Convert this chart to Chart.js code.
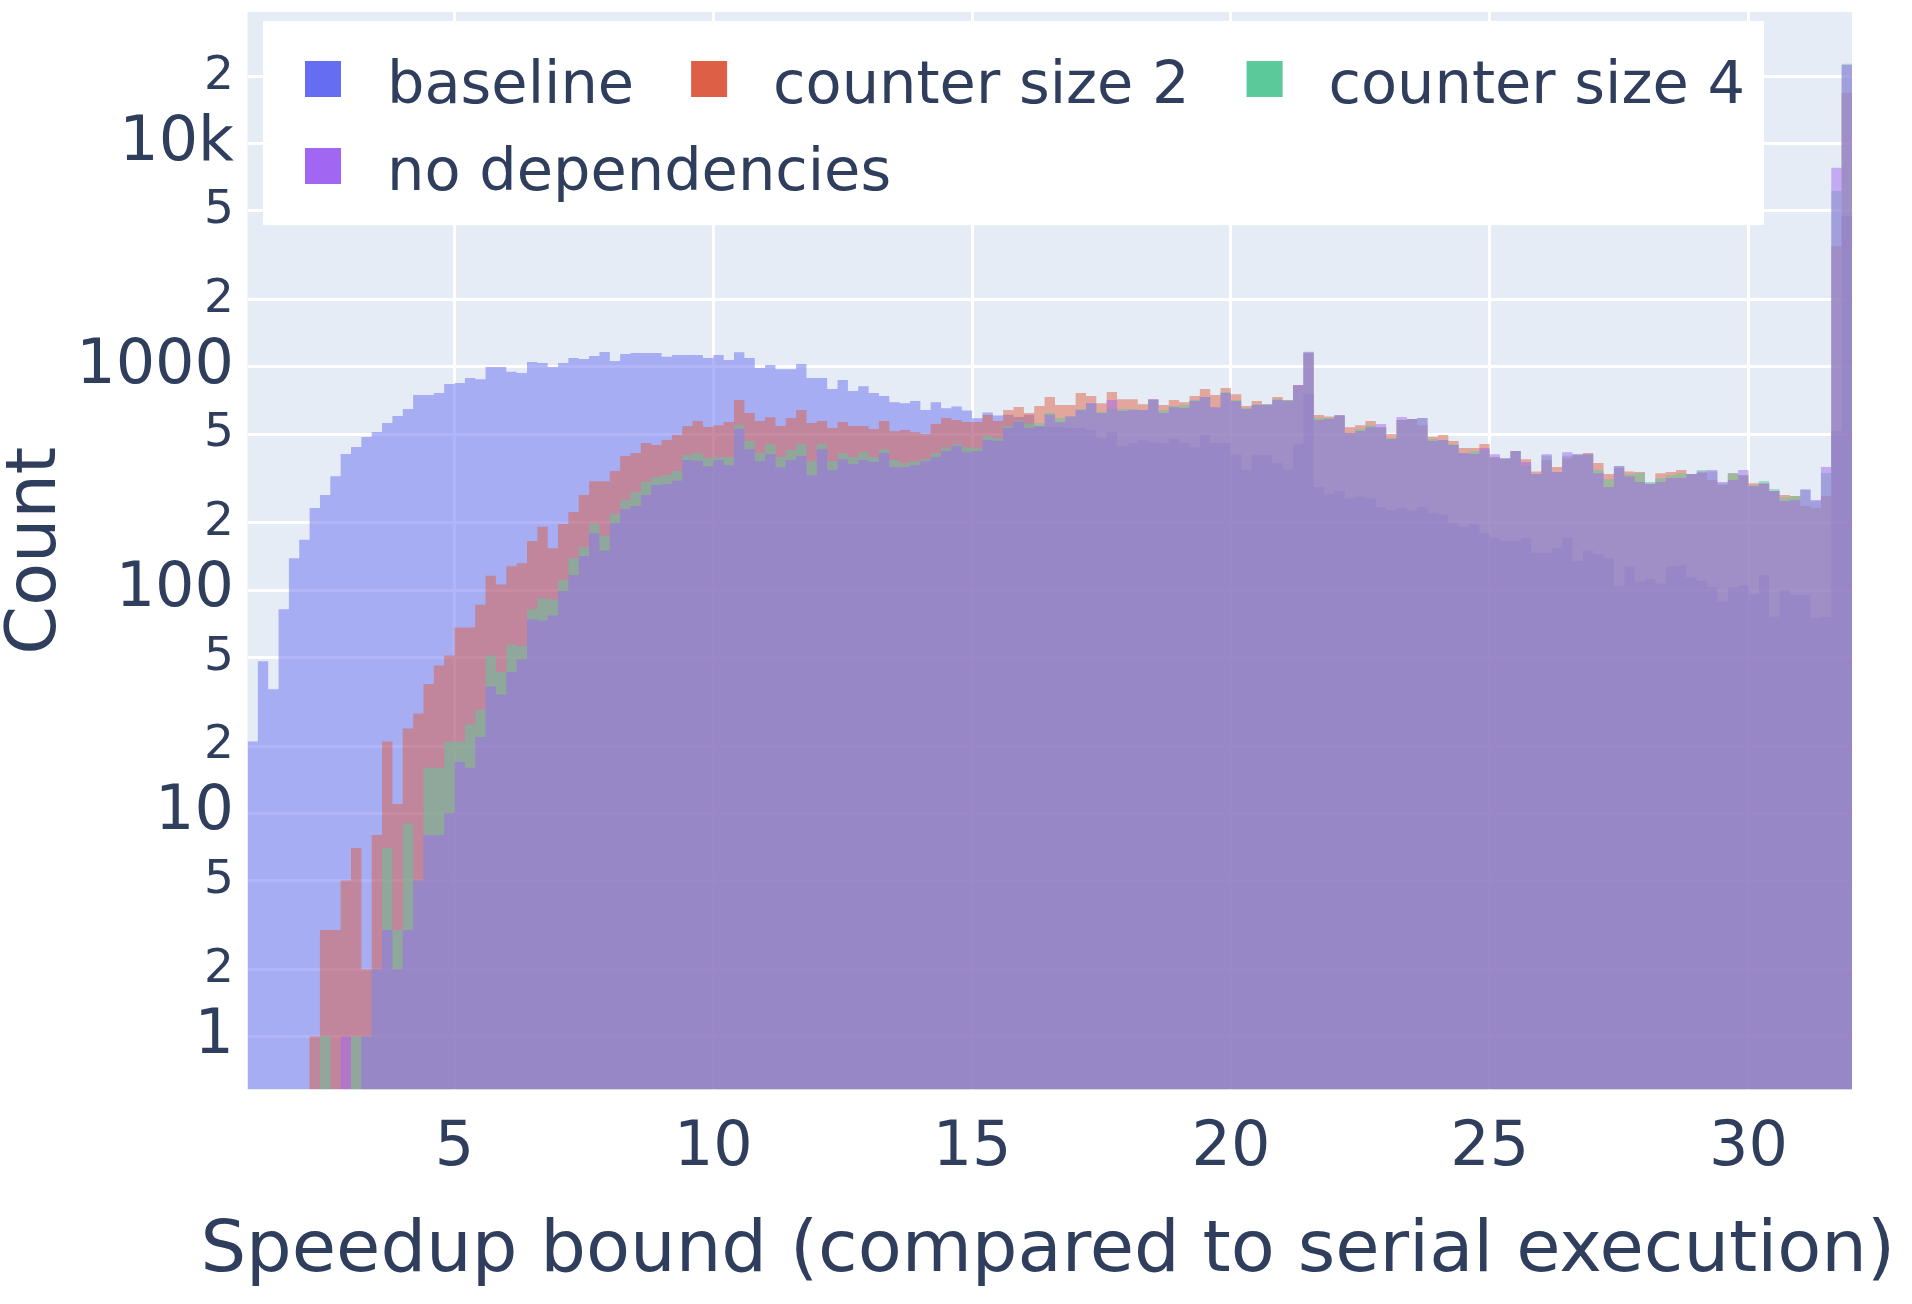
<!DOCTYPE html>
<html>
<head>
<meta charset="utf-8">
<script src="https://cdn.jsdelivr.net/npm/chart.js@4.4.1/dist/chart.umd.min.js"></script>
<style>
  html, body { margin: 0; padding: 0; background: #fff; overflow: hidden; }
  canvas { display: block; }
</style>
</head>
<body>
<canvas id="histChart" width="1912" height="1304"></canvas>
<script>
// histogram bins: 155 bins of width 0.2 from 1 to 32
var binStart = 1;
var binWidth = 0.2;

var seriesNames = ["baseline", "counter size 2", "counter size 4", "no dependencies"];
var xTitle = "Speedup bound (compared to serial execution)";
var yTitle = "Count";

var baseline = [
  21, 48, 36, 82, 139, 168, 233, 267, 324, 407,
  438, 485, 511, 561, 603, 648, 748, 748, 764, 838,
  848, 892, 881, 1000, 1000, 950, 940, 1052, 1042, 1000,
  1042, 1097, 1085, 1119, 1166, 1063, 1142, 1155, 1155, 1155,
  1110, 1132, 1132, 1132, 1096, 1131, 1074, 1164, 1096, 988,
  1019, 977, 977, 1030, 891, 891, 796, 874, 779, 820,
  764, 740, 695, 688, 703, 641, 695, 652, 665, 638,
  588, 625, 606, 611, 596, 610, 540, 540, 540, 532,
  532, 521, 480, 510, 442, 456, 470, 460, 456, 475,
  456, 437, 495, 456, 456, 406, 345, 403, 403, 371,
  348, 451, 755, 290, 269, 278, 258, 261, 258, 235,
  228, 233, 228, 235, 221, 218, 200, 192, 198, 180,
  171, 166, 166, 171, 147, 147, 154, 171, 135, 151,
  145, 139, 104, 128, 109, 112, 107, 128, 129, 114,
  110, 103, 89, 103, 105, 96, 117, 76, 100, 95,
  95, 75, 76, 518, 4745
];

var counterSize2 = [
  0, 0, 0, 0, 0, 0, 1, 3, 3, 5,
  7, 2, 8, 21, 11, 24, 28, 38, 46, 51,
  68, 68, 86, 116, 106, 128, 132, 166, 192, 154,
  198, 224, 267, 307, 307, 342, 399, 411, 456, 447,
  470, 495, 543, 573, 538, 548, 566, 710, 621, 572,
  595, 543, 590, 641, 560, 572, 532, 566, 543, 543,
  527, 572, 515, 521, 510, 500, 555, 590, 578, 566,
  566, 609, 572, 641, 661, 621, 668, 733, 675, 675,
  764, 740, 688, 771, 717, 717, 681, 717, 675, 711,
  695, 740, 796, 748, 804, 755, 668, 703, 681, 733,
  711, 830, 1150, 609, 600, 605, 537, 548, 572, 537,
  500, 578, 584, 548, 486, 495, 466, 433, 433, 451,
  394, 387, 420, 386, 340, 383, 356, 390, 402, 411,
  371, 331, 352, 340, 338, 300, 334, 338, 345, 331,
  335, 311, 296, 334, 327, 301, 300, 278, 267, 264,
  238, 233, 264, 3475, 16930
];

var counterSize4 = [
  0, 0, 0, 0, 0, 0, 0, 1, 0, 0,
  1, 1, 2, 7, 3, 9, 5, 16, 16, 21,
  21, 25, 29, 51, 43, 57, 56, 82, 92, 91,
  111, 139, 156, 198, 175, 219, 253, 275, 306, 321,
  328, 342, 403, 411, 391, 395, 395, 548, 466, 411,
  451, 395, 424, 451, 378, 451, 378, 411, 395, 415,
  395, 428, 383, 371, 378, 386, 411, 437, 451, 437,
  433, 490, 480, 543, 572, 557, 561, 621, 590, 600,
  647, 688, 628, 647, 647, 647, 641, 711, 641, 668,
  675, 711, 733, 660, 771, 711, 654, 681, 681, 717,
  711, 820, 1160, 590, 590, 605, 506, 527, 548, 537,
  480, 578, 584, 590, 475, 470, 450, 410, 420, 425,
  394, 390, 420, 362, 331, 400, 338, 400, 406, 406,
  345, 314, 359, 330, 335, 305, 318, 327, 334, 331,
  345, 340, 300, 334, 327, 295, 308, 284, 260, 264,
  281, 250, 335, 6140, 22800
];

var noDependencies = [
  0, 0, 0, 0, 0, 0, 0, 0, 0, 1,
  0, 1, 2, 3, 2, 3, 5, 8, 8, 10,
  17, 16, 22, 37, 34, 43, 49, 74, 73, 77,
  99, 117, 142, 180, 150, 200, 231, 238, 267, 296,
  299, 309, 383, 380, 359, 383, 363, 527, 428, 378,
  406, 356, 383, 399, 327, 428, 345, 386, 367, 383,
  375, 411, 356, 356, 363, 378, 395, 420, 442, 415,
  420, 470, 466, 532, 566, 532, 543, 611, 566, 600,
  641, 688, 621, 711, 634, 641, 641, 717, 621, 660,
  654, 703, 733, 660, 764, 703, 647, 675, 675, 711,
  703, 830, 1170, 578, 584, 609, 506, 516, 537, 555,
  475, 596, 584, 590, 466, 470, 447, 411, 407, 433,
  406, 390, 420, 375, 331, 406, 338, 415, 406, 406,
  334, 290, 360, 324, 305, 299, 305, 318, 318, 331,
  340, 345, 305, 311, 345, 292, 300, 278, 251, 253,
  283, 253, 356, 7810, 22500
];

var xTicks = [5, 10, 15, 20, 25, 30];
var yTicks = [1, 2, 5, 10, 20, 50, 100, 200, 500, 1000, 2000, 5000, 10000, 20000];
var xMin = 1, xMax = 32;
var yMin = 0.579, yMax = 38900;

var FONT = "'DejaVu Sans', Verdana, sans-serif";
var TEXT = "rgb(47,62,93)";
var PLOT_BG = "rgb(230,236,245)";
var colors = ["101,110,242", "221,96,70", "92,201,154", "161,102,242"];

// step outline: one point per bin left edge plus the closing right edge
function toSteps(values) {
  var pts = values.map(function(v, i) {
    return { x: binStart + i * binWidth, y: v > 0 ? v : yMin };
  });
  var last = values[values.length - 1];
  pts.push({ x: binStart + values.length * binWidth, y: last > 0 ? last : yMin });
  return pts;
}

function isDecade(v) {
  var e = Math.log10(v);
  return Math.abs(e - Math.round(e)) < 1e-9;
}

function countLabel(v) {
  if (isDecade(v)) {
    return v >= 10000 ? (v / 1000) + "k" : String(v);
  }
  return String(Math.round(v / Math.pow(10, Math.floor(Math.log10(v)))));
}

var allSeries = [baseline, counterSize2, counterSize4, noDependencies];
var datasets = allSeries.map(function(vals, k) {
  return {
    label: seriesNames[k],
    data: toSteps(vals),
    stepped: "before",
    fill: "start",
    backgroundColor: "rgba(" + colors[k] + ",0.5)",
    borderColor: "rgba(0,0,0,0)",
    borderWidth: 0,
    pointRadius: 0,
    order: 3 - k   // baseline drawn first, no dependencies last
  };
});

var plotBackground = {
  id: "plotBackground",
  beforeDraw: function(chart) {
    var c = chart.ctx, a = chart.chartArea;
    c.save();
    c.fillStyle = "#fff";
    c.fillRect(0, 0, chart.width, chart.height);
    c.fillStyle = PLOT_BG;
    c.fillRect(a.left, a.top, a.right - a.left, a.bottom - a.top);
    c.restore();
  }
};

// plotly-style legend box inside the plot
var boxLegend = {
  id: "boxLegend",
  afterDatasetsDraw: function(chart) {
    var c = chart.ctx, a = chart.chartArea;
    var left = a.left + 15.5, top = a.top + 9;
    var rows = [[0, 1, 2], [3]];
    var rowY = [58, 145];
    c.save();
    c.font = "59px " + FONT;
    var right = left;
    var items = [];
    rows.forEach(function(row, r) {
      var x = left + 42;
      row.forEach(function(k) {
        var w = c.measureText(seriesNames[k]).width;
        items.push({ k: k, x: x, y: top + rowY[r] });
        right = Math.max(right, x + 82 + w + 19);
        x += 82 + w + 57;
      });
    });
    c.fillStyle = "#fff";
    c.fillRect(left, top, right - left, 204);
    c.textBaseline = "alphabetic";
    c.textAlign = "left";
    items.forEach(function(it) {
      c.fillStyle = "rgb(" + colors[it.k] + ")";
      c.fillRect(it.x, it.y - 18, 36, 36);
      c.fillStyle = TEXT;
      c.fillText(seriesNames[it.k], it.x + 82, it.y + 24);
    });
    c.restore();
  }
};

// x title is wider than the plot, so draw it without the scale's maxWidth squeeze
var xAxisTitle = {
  id: "xAxisTitle",
  afterDraw: function(chart) {
    var c = chart.ctx, a = chart.chartArea;
    c.save();
    c.font = "72px " + FONT;
    c.fillStyle = TEXT;
    c.textAlign = "center";
    c.textBaseline = "alphabetic";
    c.fillText(xTitle, (a.left + a.right) / 2 - 2, chart.height - 33);
    c.restore();
  }
};

var ctx = document.getElementById("histChart");

var chart = new Chart(ctx, {
  type: "line",
  data: { datasets: datasets },
  options: {
    responsive: false,
    devicePixelRatio: 1,
    animation: false,
    layout: { padding: { top: 12, right: 60, left: 0, bottom: 0 } },
    plugins: {
      legend: { display: false },
      tooltip: { enabled: false }
    },
    scales: {
      x: {
        type: "linear",
        min: xMin,
        max: xMax,
        afterBuildTicks: function(scale) {
          scale.ticks = xTicks.map(function(v) { return { value: v }; });
        },
        afterFit: function(scale) {
          scale.height = 214.5;
          scale.paddingLeft = 0;
          scale.paddingRight = 0;
        },
        grid: { color: "#fff", lineWidth: 3, drawTicks: false },
        border: { display: false },
        ticks: {
          color: TEXT,
          font: { family: FONT, size: 62 },
          padding: 22,
          maxRotation: 0,
          autoSkip: false
        },
        title: { display: false }
      },
      y: {
        type: "logarithmic",
        min: yMin,
        max: yMax,
        afterBuildTicks: function(scale) {
          scale.ticks = yTicks.map(function(v) { return { value: v, major: isDecade(v) }; });
        },
        afterFit: function(scale) {
          scale.width = 247.5;
          scale.paddingTop = 0;
          scale.paddingBottom = 0;
        },
        grid: { color: "#fff", lineWidth: 3, drawTicks: false },
        border: { display: false },
        ticks: {
          color: TEXT,
          autoSkip: false,
          padding: 13.5,
          callback: function(v) { return countLabel(v); },
          font: function(c) {
            var v = c.tick ? c.tick.value : 1;
            return { family: FONT, size: isDecade(v) ? 62 : 47 };
          }
        },
        title: {
          display: true,
          text: yTitle,
          color: TEXT,
          font: { family: FONT, size: 70, lineHeight: 1 },
          padding: { top: 2, bottom: 0 }
        }
      }
    }
  },
  plugins: [plotBackground, boxLegend, xAxisTitle]
});
</script>
</body>
</html>
